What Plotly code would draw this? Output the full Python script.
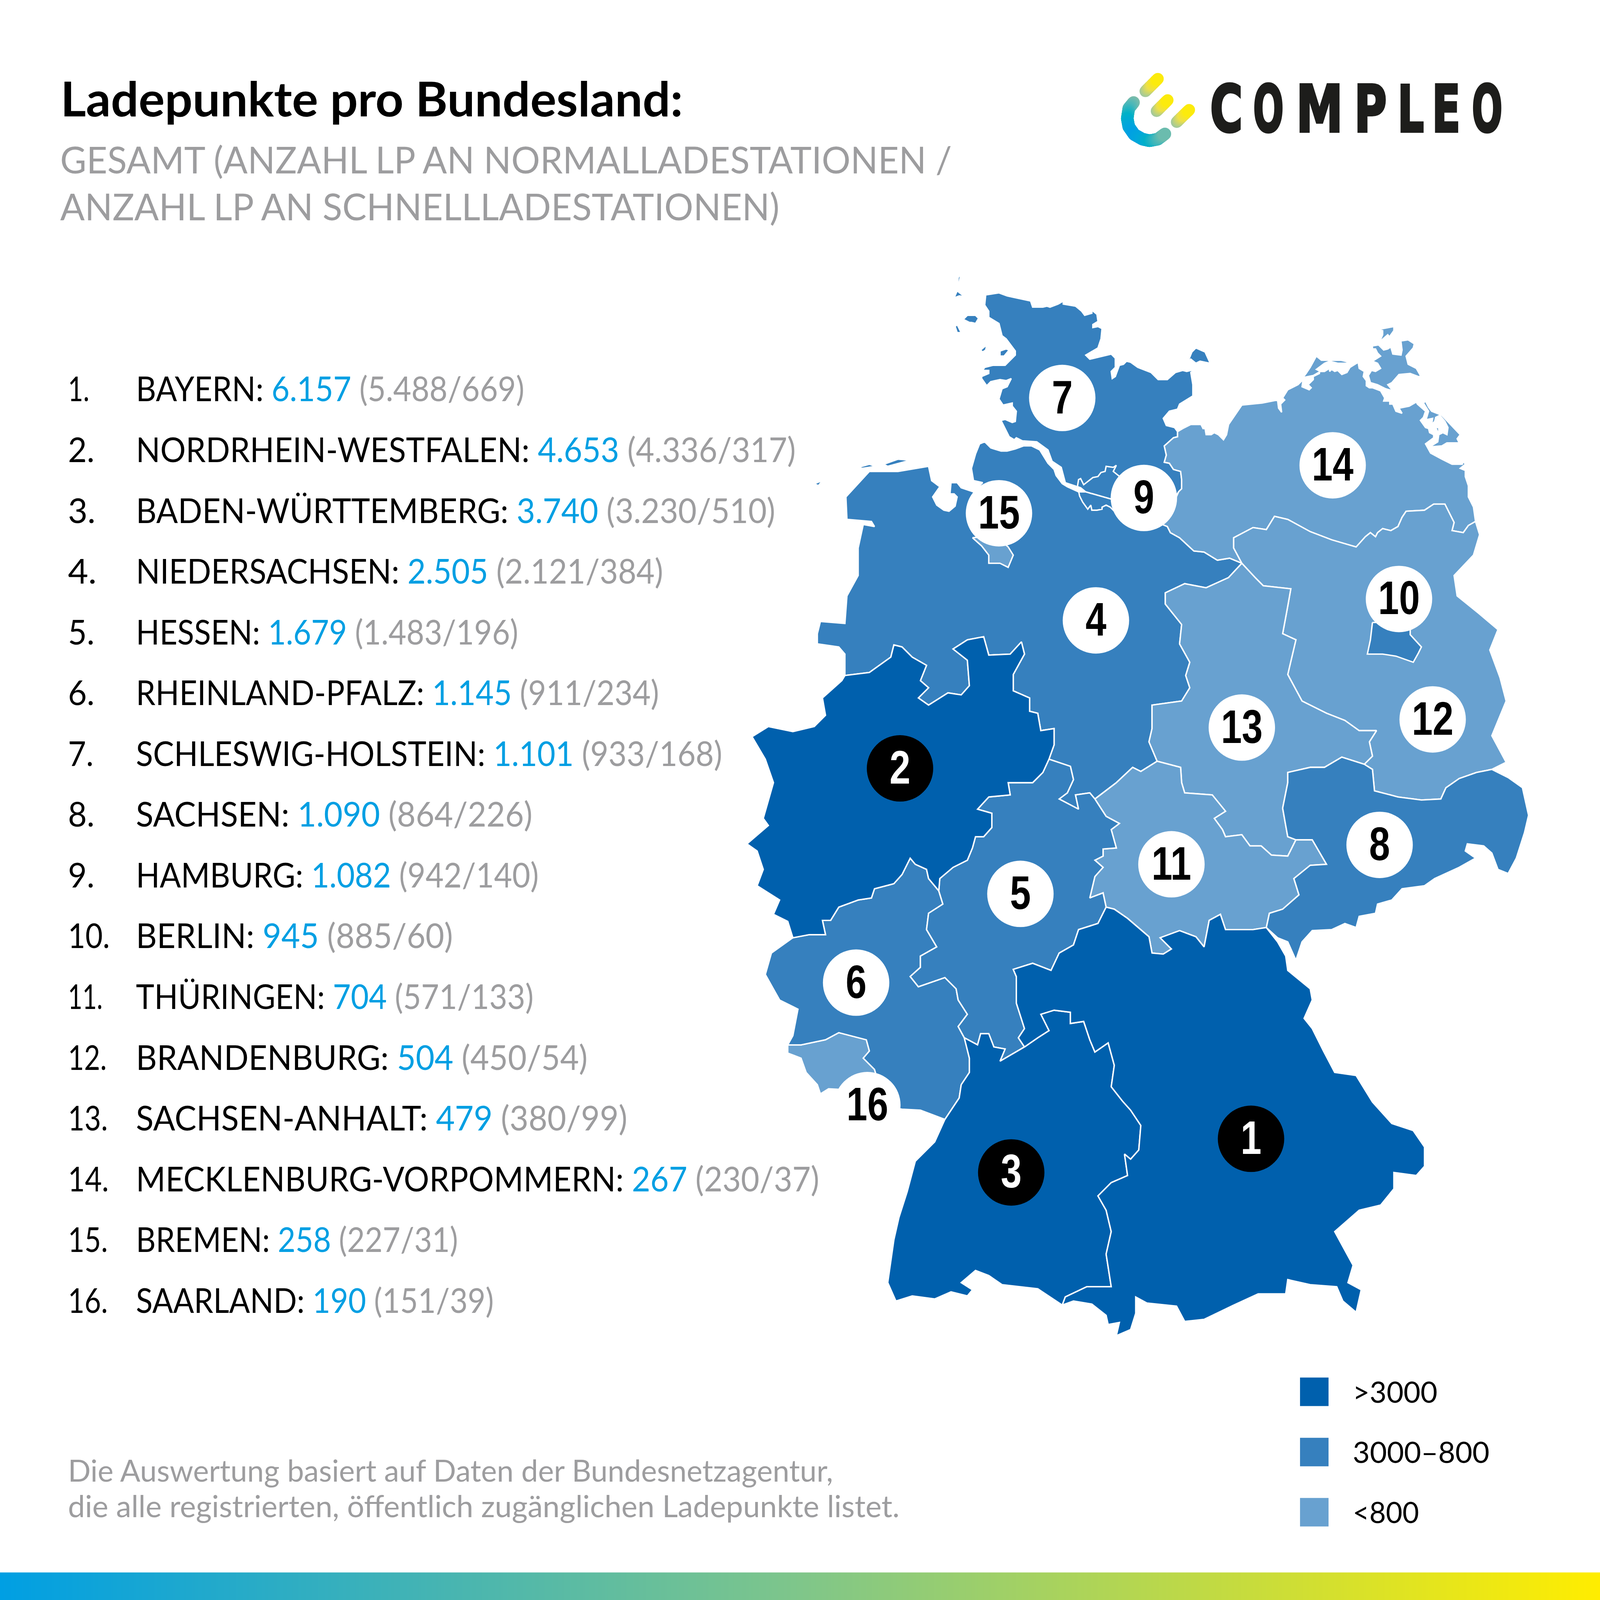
import json
import plotly.graph_objects as go

PAGE = 4096  # the browser window the page is photographed in
PX = PAGE / 1568.0

# ---------- table data ----------
ranks = list(range(1, 17))
states = ["BAYERN", "NORDRHEIN-WESTFALEN", "BADEN-WÜRTTEMBERG", "NIEDERSACHSEN", "HESSEN",
          "RHEINLAND-PFALZ", "SCHLESWIG-HOLSTEIN", "SACHSEN", "HAMBURG", "BERLIN", "THÜRINGEN",
          "BRANDENBURG", "SACHSEN-ANHALT", "MECKLENBURG-VORPOMMERN", "BREMEN", "SAARLAND"]
totals = [6157, 4653, 3740, 2505, 1679, 1145, 1101, 1090, 1082, 945, 704, 504, 479, 267, 258, 190]
normal = [5488, 4336, 3230, 2121, 1483, 911, 933, 864, 942, 885, 571, 450, 380, 230, 227, 151]
fast = [669, 317, 510, 384, 196, 234, 168, 226, 140, 60, 133, 54, 99, 37, 31, 39]
rank_right = [87, 92, 93, 94, 92, 92, 91, 92, 92, 107, 100, 104, 105, 106, 105, 105]
row_right = [513, 779, 759, 649, 507, 645, 707, 521, 527, 443, 522, 575, 614, 802, 448, 483]

# ---------- map outlines: borders ----------
B_SH_MV = [(1154,423),(1154,428),(1150,429),(1141,437),(1143,446),(1141,453),(1146,454),(1150,460),(1157,462),(1158,470),(1158,479),(1155,482)]
B_SH_NI = [(1155,482),(1140,505),(1110,495),(1064,482)]
B_MV_NI = [(1155,482),(1147,500),(1139,514),(1144,516),(1147,522),(1156,527),(1170,540),(1180,541),(1193,549),(1205,547),(1217,552)]
B_MV_BB = [(1446,511),(1439,515),(1434,522),(1423,520),(1425,512),(1416,494),(1405,494),(1396,500),(1378,501),(1374,507),
           (1370,516),(1363,520),(1355,518),(1350,522),(1348,526),(1343,522),(1338,526),(1332,533),(1329,536),(1305,529),
           (1284,521),(1262,509),(1249,506),(1241,519),(1228,517),(1209,527),(1209,537),(1217,552)]
B_NI_ST = [(1217,552),(1204,566),(1182,576),(1161,572),(1142,581),(1142,592),(1158,612),(1156,631),(1166,649),
           (1162,662),(1166,674),(1158,687),(1129,691),(1129,714),(1126,727),(1134,746)]
B_ST_BB = [(1217,552),(1230,566),(1238,574),(1265,577),(1262,594),(1257,621),(1270,627),(1262,661),(1276,687),
           (1300,699),(1318,706),(1332,716),(1349,716),(1342,727),(1345,741),(1337,749)]
B_ST_TH = [(1134,746),(1157,752),(1158,767),(1161,777),(1188,779),(1201,795),(1190,802),(1198,813),(1201,820),
           (1217,818),(1225,829),(1236,829),(1246,838),(1262,839),(1270,823)]
B_ST_SN = [(1270,823),(1262,820),(1260,809),(1257,792),(1262,767),(1262,757),(1284,752),(1298,752),(1315,742),(1337,749)]
B_BB_SN = [(1337,749),(1345,754),(1347,775),(1370,781),(1393,784),(1412,783),(1417,772),(1430,763),(1447,757),(1462,754)]
B_TH_SN = [(1270,823),(1286,823),(1300,847),(1284,848),(1268,861),(1273,877),(1257,891),(1244,895),(1241,909)]
B_TH_BY = [(1084,889),(1092,891),(1105,900),(1126,918),(1129,934),(1140,935),(1148,930),(1137,919),(1156,912),
           (1172,918),(1180,928),(1185,902),(1196,896),(1201,911),(1228,911),(1241,909)]
B_TH_NI = [(1094,767),(1110,752),(1118,756),(1134,746)]
B_HE_TH = [(1094,767),(1073,783),(1084,800),(1097,807),(1089,813),(1094,831),(1081,832),(1081,839),(1073,843),
           (1081,850),(1073,859),(1068,880),(1081,875),(1084,889)]
B_HE_NI = [(1028,744),(1049,751),(1052,764),(1046,777),(1038,783),(1057,793),(1054,779),(1068,777),(1073,783),(1094,767)]
B_NW_NI = [(828,662),(852,659),(873,644),(876,632),(884,634),(894,644),(908,652),(902,667),(910,674),(900,684),
           (910,691),(929,679),(942,681),(950,672),(948,647),(934,636),(948,627),(964,624),(969,642),(990,641),
           (1001,629),(1004,641),(993,661),(993,677),(1009,684),(1009,697),(1017,699),(1020,716),(1033,714),
           (1033,730),(1028,744)]
B_NW_HE = [(1028,744),(1022,757),(1012,767),(988,767),(990,779),(969,781),(958,793),(972,797),(972,811),(964,820),
           (956,820),(953,831),(948,843),(934,850),(921,861),(920,873)]
B_NW_RP = [(920,873),(910,861),(908,852),(897,847),(892,841),(884,857),(876,866),(857,871),(854,880),(841,882),
           (822,889),(814,902),(806,902),(809,916),(793,916),(777,919)]
B_HE_RP = [(920,873),(924,886),(910,895),(908,911),(918,928),(902,937),(902,948),(892,957),(900,967),(926,958),
           (937,969),(939,980),(948,994),(939,1006),(945,1017)]
B_HE_BW = [(945,1017),(958,1024),(961,1013),(969,1013),(974,1026),(985,1028),(980,1040),(1004,1026)]
B_HE_BY = [(1004,1026),(998,1017),(1004,1008),(996,983),(996,957),(993,950),(1012,944),(1030,951),(1038,934),
           (1052,926),(1057,911),(1076,905),(1084,889)]
B_BW_BY = [(1004,1026),(1017,1017),(1028,1010),(1020,994),(1033,990),(1049,992),(1049,1003),(1062,1001),(1068,1019),
           (1073,1031),(1086,1022),(1092,1044),(1089,1065),(1100,1079),(1108,1088),(1118,1103),(1116,1127),(1108,1136),
           (1102,1131),(1105,1152),(1089,1159),(1076,1172),(1084,1186),(1089,1207),(1084,1229),(1089,1261),(1065,1261),
           (1044,1271),(1041,1279)]
B_RP_BW = [(945,1017),(950,1037),(950,1051),(942,1063),(940,1076),(926,1097)]
B_RP_SL = [(772,1024),(785,1024),(809,1019),(822,1012),(849,1019),(852,1030),(846,1037),(857,1048),(862,1065)]

C_SH = [(1064,482),(1059,478),(1044,473),(1040,458),(1031,452),(1027,441),(1016,433),(1002,432),(996,429),(994,431),(989,428),
        (981,412),(985,411),(992,414),(995,413),(996,403),(992,398),(992,395),(983,397),(979,391),(982,381),(987,379),(991,371),
        (986,373),(980,372),(971,374),(967,378),(962,371),(962,369),(969,366),(969,363),(963,363),(965,360),(973,358),(985,358),
        (990,353),(995,348),(995,344),(986,332),(982,329),(979,317),(969,311),(969,305),(965,299),(966,289),(979,287),(987,290),
        (1010,295),(1012,301),(1022,301),(1026,300),(1029,301),(1037,298),(1042,295),(1042,298),(1054,300),(1060,305),(1063,309),
        (1070,307),(1070,304),(1075,308),(1076,315),(1071,318),(1071,321),(1076,320),(1080,322),(1079,332),(1076,341),(1064,348),
        (1068,352),(1089,347),(1093,351),(1093,360),(1089,364),(1090,371),(1093,369),(1097,358),(1101,357),(1104,354),(1108,355),
        (1115,360),(1128,365),(1135,372),(1144,372),(1152,365),(1159,363),(1163,364),(1171,362),(1167,365),(1169,377),(1169,388),
        (1156,396),(1154,401),(1146,403),(1140,410),(1143,417),(1151,419)]
C_NI = [(1064,482),(1057,482),(1046,477),(1041,474),(1035,466),(1033,460),(1027,454),(1019,441),(1011,437),(1003,437),(995,440),
        (987,442),(981,442),(971,439),(965,433),(960,435),(956,445),(952,459),(954,471),(963,473),(954,482),(942,478),(938,473),
        (932,473),(931,484),(935,484),(938,487),(936,496),(930,501),(925,500),(918,495),(914,487),(921,477),(913,471),(910,457),
        (880,462),(852,462),(838,477),(829,487),(830,509),(854,511),(857,516),(846,514),(841,537),(841,564),(830,584),(828,611),
        (804,609),(801,621),(801,631),(822,634),(828,641),(828,662)]
C_NW = [(828,662),(825,667),(806,684),(809,701),(798,712),(777,717),(753,712),(737,722),(750,744),(758,767),(748,802),
        (753,809),(732,827),(742,834),(748,852),(742,868),(764,882),(758,896),(772,903),(777,919)]
C_RP = [(777,919),(756,934),(750,955),(764,980),(782,989),(777,1015),(772,1024)]
C_RP2 = [(862,1065),(870,1085),(884,1087),(902,1088),(926,1097)]
C_SL = [(772,1024),(772,1032),(785,1037),(790,1051),(801,1063),(804,1072),(812,1067),(830,1068),(862,1065)]
C_BW = [(926,1097),(916,1119),(897,1138),(889,1168),(881,1193),(876,1215),(870,1257),(878,1275),(894,1270),(916,1273),
        (932,1266),(948,1270),(953,1264),(942,1257),(956,1245),(969,1250),(982,1259),(1017,1263),(1041,1279)]
C_BY = [(1041,1279),(1052,1275),(1070,1278),(1084,1289),(1086,1298),(1097,1296),(1094,1309),(1108,1303),(1113,1287),
        (1113,1271),(1124,1277),(1153,1280),(1161,1295),(1180,1293),(1209,1279),(1233,1268),(1260,1268),(1262,1254),
        (1284,1259),(1310,1261),(1316,1275),(1329,1286),(1334,1264),(1321,1257),(1326,1240),(1308,1207),(1332,1186),
        (1353,1181),(1366,1165),(1366,1149),(1388,1152),(1396,1143),(1396,1124),(1385,1108),(1364,1101),(1345,1080),
        (1329,1054),(1308,1051),(1297,1030),(1286,1008),(1278,998),(1286,980),(1284,969),(1262,951),(1260,937),
        (1252,923),(1241,909)]
C_SN = [(1241,909),(1252,919),(1262,923),(1270,941),(1276,923),(1286,912),(1305,911),(1318,905),(1329,909),(1332,898),
        (1348,895),(1350,886),(1364,882),(1374,871),(1396,868),(1406,861),(1430,850),(1446,841),(1436,834),(1438,827),
        (1454,829),(1462,836),(1468,852),(1478,856),(1486,841),(1494,816),(1498,799),(1492,772),(1478,762),(1462,754)]
C_BB = [(1462,754),(1476,747),(1462,721),(1476,687),(1470,664),(1460,637),(1468,617),(1449,601),(1428,584),(1425,564),
        (1444,544),(1450,524),(1446,511)]
C_MV = [(1446,511),(1444,497),(1439,487),(1439,476),(1436,467),(1436,461),(1431,459),(1436,455),(1434,452),(1433,455),(1423,455),
        (1413,450),(1402,444),(1397,435),(1405,429),(1405,426),(1401,424),(1400,420),(1397,419),(1392,412),(1395,409),(1397,403),
        (1389,396),(1388,394),(1381,398),(1371,400),(1374,405),(1368,403),(1365,396),(1362,396),(1362,393),(1356,393),(1357,390),
        (1353,383),(1345,380),(1342,380),(1339,378),(1339,373),(1336,369),(1337,364),(1332,361),(1331,355),(1323,360),(1320,365),
        (1315,367),(1311,363),(1308,364),(1305,362),(1303,364),(1303,361),(1298,364),(1293,364),(1293,366),(1287,369),(1287,372),
        (1282,377),(1285,380),(1283,382),(1276,379),(1277,372),(1272,377),(1262,382),(1257,390),(1259,392),(1255,396),(1256,404),
        (1253,400),(1252,392),(1237,395),(1217,397),(1204,416),(1202,426),(1199,431),(1194,426),(1190,424),(1187,426),(1182,426),
        (1181,420),(1179,420),(1177,416),(1167,416),(1159,420),(1154,423)]

BERLIN = [(1345,610),(1343,627),(1340,641),(1355,641),(1368,643),(1385,649),(1390,640),(1393,634),(1382,622),(1382,610)]
HAMBURG = [(1056,476),(1057,470),(1059,469),(1062,475),(1071,468),(1076,467),(1079,463),(1083,462),(1084,457),(1091,458),(1094,456),
           (1091,462),(1096,466),(1115,480),(1110,500),(1092,501),(1088,497),(1084,495),(1080,497),(1080,499),(1075,500),(1070,500),
           (1069,495),(1066,499),(1061,492),(1058,486),(1056,476)]
BREMEN = [(953,527),(962,535),(969,544),(969,552),(980,552),(988,556),(993,544),(988,536),(975,525)]
RUEGEN = [(1366,320),(1350,323),(1355,324),(1355,328),(1352,335),(1360,328),(1364,333),(1367,335),(1380,333),(1386,337),(1385,341),
          (1378,349),(1380,357),(1388,361),(1392,368),(1387,374),(1390,369),(1382,366),(1371,367),(1364,375),(1360,377),(1365,383),
          (1358,381),(1350,377),(1343,375),(1341,368),(1344,363),(1348,364),(1353,361),(1350,356),(1345,354),(1353,349),(1350,346),
          (1348,342),(1345,342),(1345,339),(1351,338),(1356,343),(1360,342),(1363,340),(1365,347),(1373,348),(1374,343),(1373,335),
          (1368,336),(1361,331),(1366,324)]
USEDOM = [(1397,393),(1400,399),(1403,403),(1413,407),(1431,426),(1428,430),(1430,434),(1418,434),(1413,437),(1401,438),(1409,433),
          (1410,426),(1407,419),(1410,419),(1410,426),(1414,424),(1418,426),(1419,419),(1416,413),(1411,407),(1407,409),(1406,413),
          (1403,416),(1404,410),(1399,411),(1397,413),(1400,403),(1395,395)]
DARSS = [(1277,370),(1280,366),(1284,360),(1290,349),(1295,353),(1314,353),(1322,355),(1319,356),(1311,356),(1303,354),(1298,356),
         (1290,362),(1294,364),(1287,368)]
FEHMARN = [(1164,355),(1168,345),(1172,341),(1181,345),(1186,356),(1176,354),(1172,356),(1167,352)]
SYLT = [(945,264),(942,268),(938,285),(935,292),(940,290),(948,291),(943,289),(938,285),(939,272)]
FOEHR = [(944,313),(948,309),(956,309),(959,312),(956,317),(952,316),(950,316)]
AMRUM = [(936,320),(938,318),(942,326),(938,326)]
PELLWORM = [(961,343),(967,338),(966,343),(963,345)]
NORDSTRAND = [(980,344),(986,342),(989,343),(984,349),(980,349)]
NORDERNEY = [(798,474),(806,471),(802,476)]
JUIST = [(841,458),(852,455),(858,457),(845,459)]
SPIEKEROOG = [(866,455),(880,450),(892,451),(870,457)]

def rev(s):
    return s[::-1]

def join(*parts):
    out = []
    for p in parts:
        out.extend(p)
    return out

DARK, MID, LIGHT = "#0060ad", "#3680be", "#68a1d0"

shapes_map = [
    (join(C_SL, rev(B_RP_SL)), LIGHT),
    (join(C_RP, B_RP_SL, C_RP2, rev(B_RP_BW), rev(B_HE_RP), B_NW_RP), MID),
    (join(C_NI, B_NW_NI, B_HE_NI, B_TH_NI, rev(B_NI_ST), rev(B_MV_NI), B_SH_NI), MID),
    (join(C_SH, B_SH_MV, B_SH_NI), MID),
    (join(C_MV, B_SH_MV, B_MV_NI, rev(B_MV_BB)), LIGHT),
    (join(C_BB, B_MV_BB, B_ST_BB, B_BB_SN), LIGHT),
    (join(B_NI_ST, B_ST_TH, B_ST_SN, rev(B_ST_BB)), LIGHT),
    (join(B_TH_NI, B_ST_TH, B_TH_SN, rev(B_TH_BY), rev(B_HE_TH)), LIGHT),
    (join(B_ST_SN, B_BB_SN, rev(C_SN), rev(B_TH_SN)), MID),
    (join(rev(B_NW_HE), B_HE_NI, B_HE_TH, rev(B_HE_BY), rev(B_HE_BW), rev(B_HE_RP)), MID),
    (join(C_NW, rev(B_NW_RP), rev(B_NW_HE), rev(B_NW_NI)), DARK),
    (join(B_RP_BW, C_BW, rev(B_BW_BY), rev(B_HE_BW)), DARK),
    (join(B_BW_BY, C_BY, rev(B_TH_BY), rev(B_HE_BY)), DARK),
    (BERLIN, MID), (BREMEN, LIGHT),
]

islands = [(RUEGEN, LIGHT), (USEDOM, LIGHT), (DARSS, LIGHT), (FEHMARN, MID), (SYLT, MID), (FOEHR, MID), (AMRUM, MID),
           (PELLWORM, MID), (NORDSTRAND, MID), (NORDERNEY, MID), (JUIST, MID), (SPIEKEROOG, MID)]

badge_x = [1226, 882, 991, 1074, 1000, 839, 1041, 1352, 1121, 1371, 1148, 1404, 1217, 1306, 979, 850]
badge_y = [1116, 753, 1149, 608, 876, 963, 390, 828, 488, 587, 847, 705, 713, 456, 503, 1083]
badge_dark = [True, True, True] + [False] * 13

legend_labels = [">3000", "3000–800", "<800"]
legend_colors = [DARK, MID, LIGHT]
legend_y = [1364, 1423, 1482]
legend_widths = [83, 134, 65]

fig = go.Figure()

fig.add_trace(go.Heatmap(x=[0, 392, 784, 1176, 1568], y=[1547.75, 1561.25], z=[[0, .25, .5, .75, 1], [0, .25, .5, .75, 1]],
                         colorscale=[[0, "#009fe3"], [.5, "#7fc68a"], [1, "#ffed00"]], showscale=False, zsmooth="best",
                         hoverinfo="skip", zmin=0, zmax=1))

for pts, col in shapes_map + islands:
    fig.add_trace(go.Scatter(x=[p[0] for p in pts] + [pts[0][0]], y=[p[1] for p in pts] + [pts[0][1]],
                             mode="lines", fill="toself", fillcolor=col,
                             line=dict(color="white", width=3.6), hoverinfo="skip", showlegend=False))

# Hamburg is drawn as an outline only, so the Elbe stays open across it
fig.add_trace(go.Scatter(x=[p[0] for p in HAMBURG], y=[p[1] for p in HAMBURG], mode="lines",
                         line=dict(color="white", width=3.6), hoverinfo="skip", showlegend=False))

fig.add_trace(go.Scatter(x=badge_x, y=badge_y, mode="markers+text", text=[str(r) for r in ranks],
                         marker=dict(size=170, color=["black" if d else "white" for d in badge_dark], line=dict(width=0)),
                         textposition="middle center",
                         textfont=dict(family="Liberation Sans", size=120, weight="bold",
                                       color=["white" if d else "black" for d in badge_dark]),
                         hoverinfo="skip", showlegend=False))

fig.add_trace(go.Scatter(x=[1288] * 3, y=legend_y, mode="markers",
                         marker=dict(symbol="square", size=73, color=legend_colors, line=dict(width=0)),
                         hoverinfo="skip", showlegend=False))

def mix(a, b, t):
    ca = [int(a[i:i + 2], 16) for i in (1, 3, 5)]
    cb = [int(b[i:i + 2], 16) for i in (1, 3, 5)]
    return "#%02x%02x%02x" % tuple(round(x + (y - x) * t) for x, y in zip(ca, cb))

def gradient_path(pts, cols, width, steps=6):
    for i in range(len(pts) - 1):
        for k in range(steps):
            t0, t1 = k / steps, (k + 1) / steps
            xa = pts[i][0] + (pts[i + 1][0] - pts[i][0]) * t0
            ya = pts[i][1] + (pts[i + 1][1] - pts[i][1]) * t0
            xb = pts[i][0] + (pts[i + 1][0] - pts[i][0]) * t1
            yb = pts[i][1] + (pts[i + 1][1] - pts[i][1]) * t1
            c = mix(cols[i], cols[i + 1], t0)
            fig.add_trace(go.Scatter(x=[xa, xb], y=[ya, yb], mode="lines+markers",
                                     line=dict(color=c, width=width), marker=dict(size=width, color=c, line=dict(width=0)),
                                     hoverinfo="skip", showlegend=False))

PILLS = [[(1122.5, 89.4), (1128.6, 83.3), (1134.7, 77.2)],
         [(1133.5, 108.9), (1138.9, 103.5), (1144.3, 98.1)],
         [(1153.2, 119.6), (1159.3, 113.6), (1165.4, 107.7)]]
for pill in PILLS:
    gradient_path(pill, ["#a3c99a", "#ede04a", "#ffed00"], 30)
ARC = [(1110.9, 100.4), (1106.2, 106.2), (1104.7, 116.1), (1106.2, 124.2), (1111.5, 131.8), (1119.6, 136.4),
       (1126.5, 137.9), (1134.7, 136.4), (1141.6, 131.2)]
gradient_path(ARC, ["#7bbcab", "#4ab7b9", "#00b1c7", "#00a8d8", "#00a0e3", "#00a8da", "#00afc9", "#3cb6bb", "#74bdab"], 32)

annotations = []
fits = []

def note(x, y, text, size, color="black", family="Lato", anchor="left", fit=None, stroke=0):
    annotations.append(dict(x=x, y=y, xref="x", yref="y", text=text, showarrow=False, xanchor=anchor, yanchor="middle",
                            align="left", font=dict(family=family, size=size, color=color)))
    fits.append([None if fit is None else fit * PX, anchor, stroke, color])

GREY = "#9d9d9f"
BLUE = "#009fe3"

def de(v):
    return f"{v:,}".replace(",", ".")

note(58.5, 96, "<b>Ladepunkte pro Bundesland:</b>", 123, fit=610)
note(58, 156, "GESAMT (ANZAHL LP AN NORMALLADESTATIONEN /", 94, GREY, fit=874)
note(58, 202, "ANZAHL LP AN SCHNELLLADESTATIONEN)", 94, GREY, fit=705)

for i, r in enumerate(ranks):
    y = 380.5 + i * 59.55
    note(66, y, f"{r}.", 87, fit=rank_right[i] - 66)
    note(132.3, y, f'{states[i]}: <span style="color:{BLUE}">{de(totals[i])}</span> '
                   f'<span style="color:{GREY}">({de(normal[i])}/{de(fast[i])})</span>', 87, fit=row_right[i] - 132.3)

note(66, 1440.5, "Die Auswertung basiert auf Daten der Bundesnetzagentur,", 78, GREY, fit=750)
note(66, 1475.5, "die alle registrierten, öffentlich zugänglichen Ladepunkte listet.", 78, GREY, fit=815)

for lab, y, w in zip(legend_labels, legend_y, legend_widths):
    note(1325, y - 0.5, lab, 75, fit=w)

logo_letters = list("COMPLEO")
logo_x = [1202, 1243, 1293, 1343, 1382.5, 1417.5, 1457.5]
logo_w = [32, 30, 46, 32, 26, 28, 30]
for ch, x, w in zip(logo_letters, logo_x, logo_w):
    note(x, 107, f"<b>{ch}</b>", 165, "#1d1d1b", "DejaVu Sans", "center", fit=w, stroke=6)

fig.update_layout(width=PAGE, height=PAGE, margin=dict(l=0, r=0, t=0, b=0), paper_bgcolor="white", plot_bgcolor="white",
                  showlegend=False, annotations=annotations,
                  xaxis=dict(range=[0, 1568], visible=False, fixedrange=True),
                  yaxis=dict(range=[1568, 0], visible=False, fixedrange=True))

post = """
document.body.style.margin = '0';
var FITS = %s;
document.querySelectorAll('g.annotation').forEach(function (g) {
  var f = FITS[+g.getAttribute('data-index')];
  var t = g.querySelector('text');
  if (!f || !f[0] || !t) return;
  var b = t.getBBox();
  var o = f[1] === 'center' ? b.x + b.width / 2 : b.x;
  t.setAttribute('transform', 'translate(' + o + ' 0) scale(' + (f[0] / b.width) + ' 1) translate(' + (-o) + ' 0)');
  if (f[2]) { t.style.stroke = f[3]; t.style.strokeWidth = f[2] + 'px'; }
});
document.querySelectorAll('g.textpoint text').forEach(function (t) {
  var b = t.getBBox();
  var o = b.x + b.width / 2;
  var prev = t.getAttribute('transform') || '';
  t.setAttribute('transform', prev + ' translate(' + o + ' 9) scale(0.8 1) translate(' + (-o) + ' 0)');
});
""" % json.dumps(fits)
fig.write_html("out.html", config=dict(displayModeBar=False), post_script=post)
